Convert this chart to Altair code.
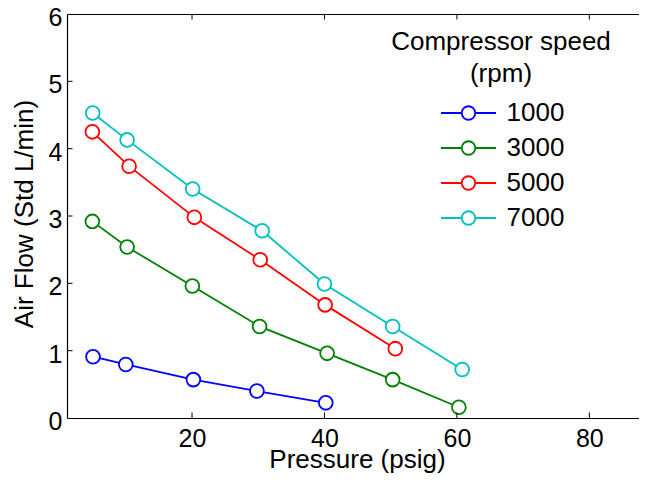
import altair as alt
import pandas as pd

# ---- data ----
speeds = ["1000", "3000", "5000", "7000"]
colors = ["#0000FF", "#008000", "#FF0000", "#00BFBF"]

p_1000 = [5.05, 10.0, 20.2, 29.8, 40.2]
f_1000 = [0.91, 0.795, 0.57, 0.40, 0.225]

p_3000 = [4.95, 10.2, 20.05, 30.2, 40.4, 50.3, 60.3]
f_3000 = [2.92, 2.54, 1.96, 1.36, 0.96, 0.57, 0.16]

p_5000 = [4.95, 10.5, 20.35, 30.3, 40.1, 50.7]
f_5000 = [4.25, 3.74, 2.98, 2.35, 1.68, 1.03]

p_7000 = [5.0, 10.2, 20.1, 30.6, 40.0, 50.3, 60.8]
f_7000 = [4.53, 4.13, 3.40, 2.78, 1.99, 1.36, 0.72]

x_ticks = [20, 40, 60, 80]
y_ticks = [0, 1, 2, 3, 4, 5, 6]
y_inner_ticks = [1, 2, 3, 4, 5]

rows = []
for s, ps, fs in zip(speeds, [p_1000, p_3000, p_5000, p_7000], [f_1000, f_3000, f_5000, f_7000]):
    for p, f in zip(ps, fs):
        rows.append({"speed": s, "pressure": p, "flow": f})
df = pd.DataFrame(rows)
xt = pd.DataFrame({"t": x_ticks})
yt = pd.DataFrame({"v": y_inner_ticks})

W, H = 572, 404
FONT = "Liberation Sans"
TICK = 5.5

xscale = alt.Scale(domain=[1.12, 87.5], nice=False, zero=False)
yscale = alt.Scale(domain=[0, 6], nice=False, zero=False)

legend_symbol = ("M-1,0H-0.245M0.245,0H1M-0.245,0A0.245,0.245,0,1,1,0.245,0"
                 "A0.245,0.245,0,1,1,-0.245,0")

lines = alt.Chart(df).mark_line(
    strokeWidth=1.8,
    point=alt.OverlayMarkDef(filled=False, fill="white", size=190, strokeWidth=1.8, opacity=1),
).encode(
    x=alt.X("pressure:Q", scale=xscale, axis=alt.Axis(
        orient="bottom", values=x_ticks, title="Pressure (psig)", ticks=False, tickSize=0,
        grid=False, labelFontSize=25, labelFont=FONT, labelColor="black", labelPadding=8,
        labelFlush=False, domainColor="black", domainWidth=1.2,
        titleFontSize=26, titleFont=FONT, titleFontWeight="normal", titleColor="black",
        titleX=290, titleY=49.5, titleBaseline="alphabetic")),
    y=alt.Y("flow:Q", scale=yscale, axis=alt.Axis(
        orient="left", values=y_ticks, title="Air Flow (Std L/min)", ticks=False, tickSize=0,
        grid=False, labelFontSize=25, labelFont=FONT, labelColor="black", labelPadding=5,
        labelOffset=3.5, labelFlush=False, domainColor="black", domainWidth=1.2,
        titleFontSize=26, titleFont=FONT, titleFontWeight="normal", titleColor="black",
        titleX=-34.7, titleY=199.5, titleBaseline="alphabetic", titleAngle=270)),
    color=alt.Color("speed:N", scale=alt.Scale(domain=speeds, range=colors), legend=alt.Legend(
        title=["Compressor speed", "(rpm)"], orient="none", legendX=324, legendY=15,
        titleFont=FONT, titleFontSize=26, titleFontWeight="normal", titleColor="black",
        titleAnchor="middle", titleAlign="center", titleLineHeight=31.5, titlePadding=9,
        titleLimit=400,
        labelFont=FONT, labelFontSize=26, labelColor="black", labelLimit=200,
        symbolType=legend_symbol, symbolSize=3025, symbolStrokeWidth=1.8,
        symbolFillColor="white", symbolOffset=2, labelOffset=9.6,
        clipHeight=35, rowPadding=0, padding=0)),
)

top = alt.Chart(xt).mark_rule(color="black", strokeWidth=1).encode(
    x=alt.X("t:Q", scale=xscale, axis=alt.Axis(
        orient="top", labels=False, ticks=False, tickSize=0, grid=False, title=None,
        domainColor="black", domainWidth=1.2)),
    y=alt.value(0), y2=alt.value(TICK),
)

bottom = alt.Chart(xt).mark_rule(color="black", strokeWidth=1).encode(
    x=alt.X("t:Q", scale=xscale, axis=None),
    y=alt.value(H), y2=alt.value(H - TICK),
)

left = alt.Chart(yt).mark_rule(color="black", strokeWidth=1).encode(
    y=alt.Y("v:Q", scale=yscale, axis=None),
    x=alt.value(0), x2=alt.value(TICK),
)

chart = alt.layer(lines, top, bottom, left).resolve_axis(
    x="independent", y="independent"
).properties(
    width=W, height=H,
    autosize=alt.AutoSizeParams(type="none"),
    padding={"left": 59, "top": 6, "right": 0, "bottom": 55},
).configure_view(stroke="transparent")

chart.save("out.html", embed_options={"renderer": "svg", "actions": False})
